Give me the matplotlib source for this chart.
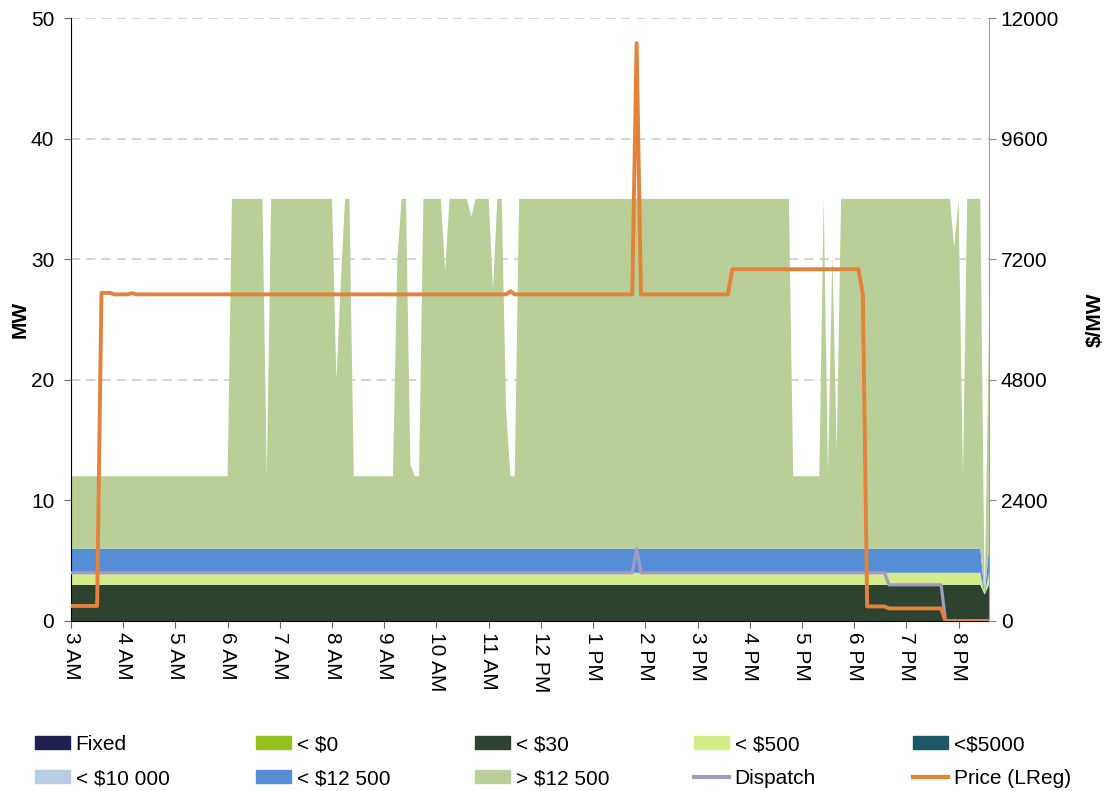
import matplotlib
matplotlib.use("Agg")
import matplotlib.pyplot as plt
from matplotlib.patches import Patch
from matplotlib.lines import Line2D
import numpy as np

plt.rcParams['font.family'] = ['Liberation Sans', 'DejaVu Sans']

# 5-minute intervals from 3:00 AM to 8:35 PM (212 points)
n_points = 212
hour_ticks = list(range(3, 21))
hour_labels = ['3 AM', '4 AM', '5 AM', '6 AM', '7 AM', '8 AM', '9 AM', '10 AM', '11 AM',
               '12 PM', '1 PM', '2 PM', '3 PM', '4 PM', '5 PM', '6 PM', '7 PM', '8 PM']

# Series stored as (value, run length)
fixed_vals, fixed_runs = [0], [212]
lt0_vals, lt0_runs = [0], [212]
lt30_vals, lt30_runs = [3, 2.2, 3], [210, 1, 1]
lt500_vals, lt500_runs = [1, 0, 1], [210, 1, 1]
lt5000_vals, lt5000_runs = [0], [212]
lt10000_vals, lt10000_runs = [0], [212]
lt12500_vals, lt12500_runs = [2, 0, 2], [210, 1, 1]
gt12500_vals = [6, 29, 6, 29, 14, 22, 29, 6, 24, 29, 7, 6, 29, 23, 29, 27.5, 29, 21.5, 29, 11.5,
                6, 29, 6, 29, 6.2, 24.5, 8, 29, 25, 29, 6, 29, 0, 18]
gt12500_runs = [37, 8, 1, 15, 1, 1, 2, 10, 1, 2, 1, 2, 5, 1, 5, 1, 4, 1, 2, 1,
                2, 63, 7, 1, 1, 1, 1, 26, 1, 1, 1, 4, 1, 1]

dispatch_vals = [4, 6, 4, 3, 0]
dispatch_runs = [130, 1, 57, 13, 11]

price_vals = [300, 6530, 6500, 6525, 6500, 6560, 6500, 11500, 6500, 7000, 6500, 290, 250, 0]
price_runs = [7, 3, 4, 1, 86, 1, 28, 1, 21, 30, 1, 5, 13, 11]

series_names = ['Fixed', '< $0', '< $30', '< $500', '<$5000', '< $10 000', '< $12 500', '> $12 500']
series_colors = ['#1F2050', '#95C11F', '#2D4330', '#D3EB8A', '#1F5865', '#B8CCE4', '#558ED5', '#BACE98']
series_data = [(fixed_vals, fixed_runs), (lt0_vals, lt0_runs), (lt30_vals, lt30_runs),
               (lt500_vals, lt500_runs), (lt5000_vals, lt5000_runs), (lt10000_vals, lt10000_runs),
               (lt12500_vals, lt12500_runs), (gt12500_vals, gt12500_runs)]

t = 3 + np.arange(n_points) / 12.0
stacks = [np.repeat(v, r) for v, r in series_data]
dispatch = np.repeat(dispatch_vals, dispatch_runs)
price = np.repeat(price_vals, price_runs)

W, H = 1110, 791
fig = plt.figure(figsize=(W / 100, H / 100), dpi=100)
ax = fig.add_axes([71 / W, 1 - 621 / H, (989 - 71) / W, (621 - 18) / H])

ax.stackplot(t, *stacks, colors=series_colors, linewidth=0, zorder=2)
ax.plot(t, dispatch, color='#A49BC5', lw=2.3, zorder=3)

ax.set_xlim(3, t[-1])
ax.set_ylim(0, 50)
ax.set_yticks(range(0, 51, 10))
ax.yaxis.grid(True, color='#C8C8C8', linestyle=(0, (6, 4)), lw=1.1, zorder=0)
ax.set_axisbelow(True)
ax.set_xticks(hour_ticks)
ax.set_xticklabels(hour_labels, rotation=-90, ha='center', va='top')
ax.tick_params(axis='both', labelsize=15, direction='out', length=5, color='#666666')
ax.tick_params(axis='y', pad=7)
ax.tick_params(axis='x', pad=3)
ax.set_ylabel('MW', fontsize=15, fontweight='bold', labelpad=1)
for s in ['top', 'right']:
    ax.spines[s].set_visible(False)
ax.spines['left'].set_color('black')
ax.spines['bottom'].set_color('black')

ax2 = ax.twinx()
ax2.plot(t, price, color='#E3823A', lw=2.8, zorder=4)
ax2.set_ylim(0, 12000)
ax2.set_yticks(range(0, 12001, 2400))
ax2.tick_params(axis='y', labelsize=15, direction='out', length=5, color='#888888')
ax2.set_ylabel('$/MW', fontsize=15, fontweight='bold', labelpad=19)
ax2.spines['right'].set_color('#A0A0A0')
ax2.spines['top'].set_visible(False)
ax2.spines['left'].set_visible(False)
ax2.spines['bottom'].set_visible(False)

# legend: Excel lays it out row-wise in equal-width columns, so one legend per column
handles = [Patch(color=c) for c in series_colors]
handles += [Line2D([], [], color='#A49BC5', lw=3), Line2D([], [], color='#E3823A', lw=3)]
labels = series_names + ['Dispatch', 'Price (LReg)']
col_x = [35, 256, 475, 694, 913]
for c, x0 in enumerate(col_x):
    leg = fig.legend([handles[c], handles[c + 5]], [labels[c], labels[c + 5]],
                     loc='upper left', bbox_to_anchor=(x0 / W, 1 - 735 / H), frameon=False,
                     fontsize=15, handlelength=1.7, handleheight=0.55, handletextpad=0.25,
                     labelspacing=0.72, borderpad=0, borderaxespad=0)

fig.savefig('out.png', dpi=100)
